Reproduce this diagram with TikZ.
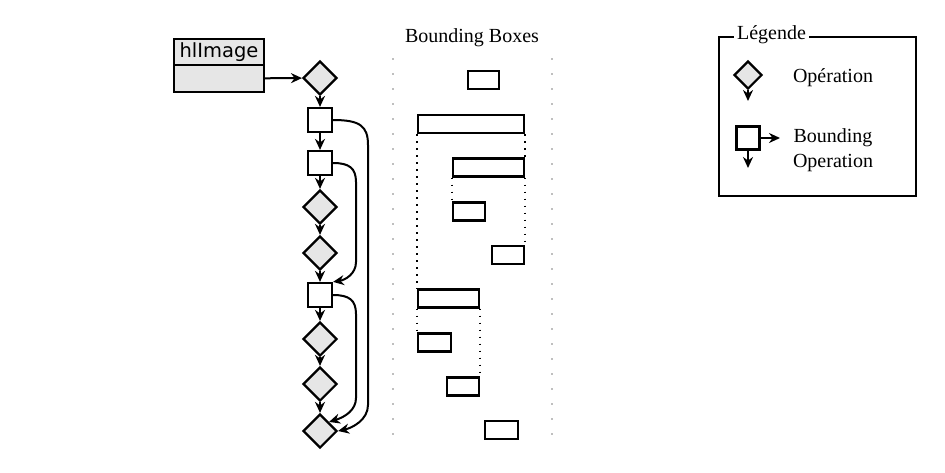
\documentclass[tikz,border=0pt]{standalone}
\usepackage{fontspec}
\setmainfont{Liberation Serif}
\usetikzlibrary{shapes.geometric, arrows.meta, positioning, calc}
\newfontfamily\hlsans{DejaVu Sans}
\definecolor{opfill}{RGB}{230,230,230}

\begin{document}
\begin{tikzpicture}[
    x=1pt, y=-1pt,
    op/.style={draw, line width=2.2pt, fill=opfill, diamond, aspect=1, inner sep=0pt, minimum size=34pt},
    bop/.style={draw, line width=2.2pt, fill=white, rectangle, inner sep=0pt, minimum size=24pt},
    bbox/.style={draw, line width=2.2pt, inner sep=0pt, minimum height=18pt},
    imgpart/.style={draw, line width=2.2pt, fill=opfill, minimum width=90pt},
    flow/.style={-{Stealth[length=11pt,width=10pt]}, line width=2pt},
    trace/.style={line width=1.8pt, dash pattern=on 1.8pt off 5.2pt},
    lane/.style={gray!50, line width=1.5pt, dash pattern=on 1.5pt off 13.5pt},
    lbl/.style={font=\fontsize{20}{25}\selectfont}
]
    \useasboundingbox (0,0) rectangle (945,472);

    % Image object
    \node[imgpart, minimum height=26pt, font=\hlsans\fontsize{19.5}{21}\selectfont] (img) at (219,52) {hlImage};
    \node[imgpart, minimum height=27pt, below=-2.2pt of img] (imgbody) {};

    % Operation chain
    \node[op] (op1) at (320,78) {};
    \node[bop] (bop1) at (320,120) {};
    \node[bop] (bop2) at (320,163) {};
    \node[op] (op2) at (320,207) {};
    \node[op] (op3) at (320,253) {};
    \node[bop] (bop3) at (320,295) {};
    \node[op] (op4) at (320,339) {};
    \node[op] (op5) at (320,384) {};
    \node[op] (op6) at (320,431) {};

    \draw[flow] (imgbody) -- (op1);
    \draw[flow] (op1) -- (bop1);
    \draw[flow] (bop1) -- (bop2);
    \draw[flow] (bop2) -- (op2);
    \draw[flow] (op2) -- (op3);
    \draw[flow] (op3) -- (bop3);
    \draw[flow] (bop3) -- (op4);
    \draw[flow] (op4) -- (op5);
    \draw[flow] (op5) -- (op6);

    % Bounding jumps
    \draw[flow] (bop1.east) .. controls (360,120) and (368,126) .. (368,145) -- (368,405) .. controls (368,420) and (352,428) .. (op6.east);
    \draw[flow] (bop2.east) .. controls (349,163) and (356,168) .. (356,182) -- (356,262) .. controls (356,274) and (345,280) .. (bop3.north east);
    \draw[flow] (bop3.east) .. controls (349,295) and (356,300) .. (356,314) -- (356,398) .. controls (356,410) and (345,417) .. (op6.north east);

    % Bounding boxes
    \node[lbl] (bbtitle) at (472,38) {Bounding Boxes};
    \draw[lane] (393,58) -- (393,440);
    \draw[lane] (552,58) -- (552,440);

    \node[bbox, minimum width=31pt] (bb1) at (483.5,80) {};
    \node[bbox, minimum width=106pt] (bb2) at (471,124) {};
    \node[bbox, minimum width=71pt] (bb3) at (488.5,167.5) {};
    \node[bbox, minimum width=32pt] (bb4) at (469,211.5) {};
    \node[bbox, minimum width=32pt] (bb5) at (508,255) {};
    \node[bbox, minimum width=61pt] (bb6) at (448.5,298.5) {};
    \node[bbox, minimum width=33pt] (bb7) at (434.5,342.5) {};
    \node[bbox, minimum width=32pt] (bb8) at (463,386.5) {};
    \node[bbox, minimum width=33pt] (bb9) at (501.5,430) {};

    \draw[trace] (bb2.south west) -- (bb6.north west);
    \draw[trace] (bb2.south east) -- (bb3.north east);
    \draw[trace] (bb3.south east) -- (bb5.north east);
    \draw[trace] (bb3.south west) -- (bb4.north west);
    \draw[trace] (bb6.south west) -- (bb7.north west);
    \draw[trace] (bb6.south east) -- (bb8.north east);

    % Legend
    \node[draw, line width=2.2pt, minimum width=197pt, minimum height=159pt] (legend) at (817.5,116.5) {};
    \node[lbl, fill=white, inner xsep=3pt, inner ysep=1pt, anchor=base] (legendtitle) at (771.5,39) {Légende};

    \node[op, minimum size=28pt] (lop) at (748,75) {};
    \coordinate (lopdown) at (748,101);
    \draw[flow] (lop) -- (lopdown);
    \node[lbl] (lopname) at (833,78) {Opération};

    \node[bop, minimum size=23pt] (lbop) at (748,138) {};
    \coordinate (lbopright) at (780,138);
    \coordinate (lbopdown) at (748,168);
    \draw[flow] (lbop) -- (lbopright);
    \draw[flow] (lbop) -- (lbopdown);
    \node[lbl, align=center] (lbopname) at (833,150) {Bounding\\Operation};
\end{tikzpicture}
\end{document}
